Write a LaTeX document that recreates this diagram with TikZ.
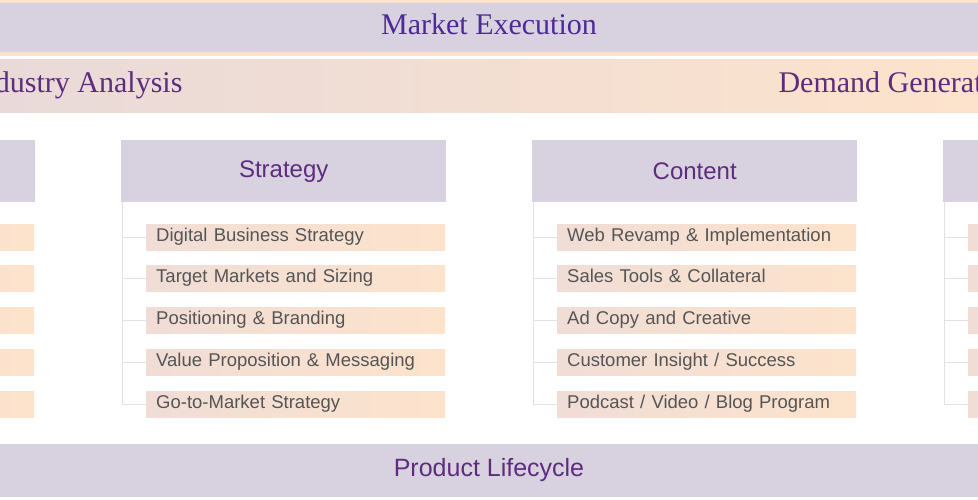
\documentclass[tikz,border=0pt]{standalone}
\usepackage{fontspec}
\setmainfont{Liberation Serif}
\setsansfont{Liberation Sans}
\definecolor{lav}{HTML}{D8D2E0}
\definecolor{peach}{HTML}{FDE3CC}
\definecolor{pinkish}{HTML}{F0DDD6}
\definecolor{hdtext}{HTML}{5E2C7E}
\definecolor{toptext}{HTML}{4E2A96}
\definecolor{itemtext}{HTML}{555555}
\definecolor{treeline}{HTML}{E2E2E2}
\tikzset{
 band/.style={fill=lav,minimum width=1000pt,minimum height=49pt,inner sep=0},
 header/.style={fill=lav,minimum width=325pt,minimum height=62pt,inner sep=0,font=\sffamily\fontsize{24}{28}\selectfont,text=hdtext},
 item/.style={left color=pinkish,right color=peach,minimum width=299pt,minimum height=26pt,inner sep=0,anchor=west,font=\sffamily\fontsize{18.5}{21}\selectfont,text=itemtext,text width=289pt,align=left},
 tree/.style={draw=treeline,line width=1pt}
}
\newcommand{\mkcol}[3]{%
  \node[header,anchor=north west] (h#1) at (#2,140) {#3};
  \coordinate (t#1) at (#2+1,202);
  \draw[tree] (t#1) -- (#2+1,404);}
\newcommand{\mkitem}[4]{%
  \node[item] (i#1#3) at (#2+25,{237+(#3-1)*41.75}) {\strut\hspace*{5pt}#4};
  \draw[tree] (#2+1,{237+(#3-1)*41.75}) -- (i#1#3.west);}
\begin{document}
\begin{tikzpicture}[x=1pt,y=-1pt]
\useasboundingbox (0,0) rectangle (978,500);
\clip (0,0) rectangle (978,500);
\fill[peach] (-10,0) rectangle (990,56);
\fill[lav] (-10,3) rectangle (990,52);
\node[font=\fontsize{30}{34}\selectfont,text=toptext] (me) at (489,24) {Market Execution};
\shade[left color=pinkish!70!lav,right color=peach] (-10,60) rectangle (990,113);
\node[font=\fontsize{30}{34}\selectfont,text=hdtext,anchor=base east] (ia) at (186,93) {Industry Analysis};
\node[font=\fontsize{30}{34}\selectfont,text=hdtext,anchor=base west] (dg) at (775,93) {Demand Generation};
\mkcol{L}{-290}{}
\mkcol{S}{121}{Strategy}
\mkcol{C}{532}{Content}
\mkcol{R}{943}{}
\foreach \i in {1,...,5}{\mkitem{L}{-290}{\i}{} \mkitem{R}{943}{\i}{}}
\mkitem{S}{121}{1}{Digital Business Strategy}
\mkitem{S}{121}{2}{Target Markets and Sizing}
\mkitem{S}{121}{3}{Positioning \& Branding}
\mkitem{S}{121}{4}{Value Proposition \& Messaging}
\mkitem{S}{121}{5}{Go-to-Market Strategy}
\mkitem{C}{532}{1}{Web Revamp \& Implementation}
\mkitem{C}{532}{2}{Sales Tools \& Collateral}
\mkitem{C}{532}{3}{Ad Copy and Creative}
\mkitem{C}{532}{4}{Customer Insight / Success}
\mkitem{C}{532}{5}{Podcast / Video / Blog Program}
\fill[lav] (-10,444) rectangle (990,497);
\node[font=\sffamily\fontsize{25}{29}\selectfont,text=hdtext] (plt) at (489,470) {Product Lifecycle};
\end{tikzpicture}
\end{document}
